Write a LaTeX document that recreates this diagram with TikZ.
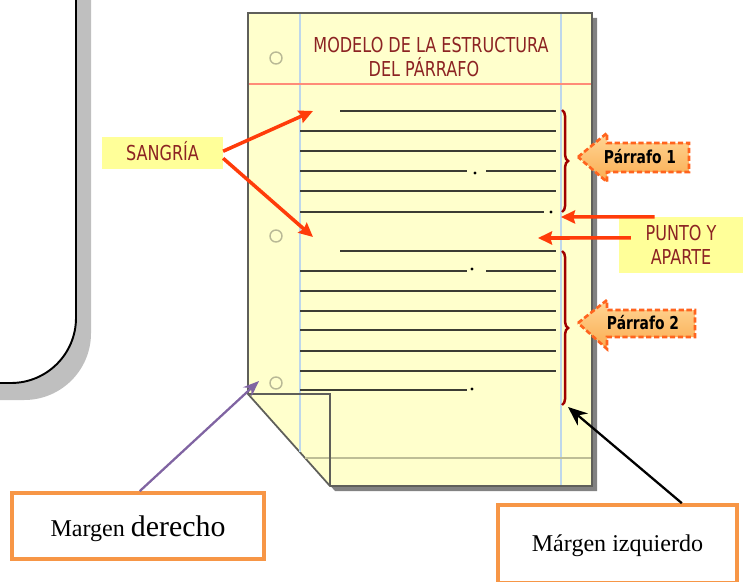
\documentclass[tikz,border=0pt]{standalone}
\usepackage{fontspec}
\setmainfont{Liberation Serif}
\newfontfamily\tahfont[FakeStretch=0.78]{DejaVu Sans}
\usetikzlibrary{arrows.meta,decorations.pathreplacing}

\definecolor{paper}{RGB}{255,255,204}
\definecolor{paperline}{RGB}{95,95,90}
\definecolor{papershadow}{RGB}{130,130,130}
\definecolor{ruleline}{RGB}{60,60,52}
\definecolor{bluerule}{RGB}{190,215,235}
\definecolor{redrule}{RGB}{255,140,120}
\definecolor{bottomrule}{RGB}{190,190,150}
\definecolor{holeline}{RGB}{185,185,150}
\definecolor{titlered}{RGB}{140,35,35}
\definecolor{bracered}{RGB}{160,0,0}
\definecolor{arrowred}{RGB}{255,60,10}
\definecolor{labelyellow}{RGB}{255,255,153}
\definecolor{calloutline}{RGB}{255,100,30}
\definecolor{boxorange}{RGB}{247,150,70}
\definecolor{purplearrow}{RGB}{128,100,162}
\definecolor{leftshadow}{RGB}{191,191,191}

\tikzset{
  rulestyle/.style={ruleline, line width=1.1pt},
  redarrow/.style={arrowred, line width=2pt, -{Stealth[length=8pt,width=7.5pt,inset=1pt]}},
  yellowbox/.style={fill=labelyellow, text=titlered, inner sep=0pt,
    font=\tahfont\fontsize{11.7}{13.9}\selectfont},
  titletext/.style={text=titlered, inner sep=0pt, text height=8.5pt, text depth=0pt,
    font=\tahfont\fontsize{11.7}{13.9}\selectfont},
  callout/.style={draw=calloutline, line width=1.5pt, dash pattern=on 3pt off 1.5pt,
    top color={rgb,255:red,255;green,214;blue,150}, bottom color={rgb,255:red,250;green,172;blue,80}},
  parrafo/.style={inner sep=0pt, text height=7.4pt, text depth=0pt,
    font=\tahfont\fontsize{10.1}{12}\selectfont\bfseries},
  pbrace/.style={bracered, line width=1.4pt, decorate, decoration={brace, amplitude=3.5pt}},
  margenbox/.style={draw=boxorange, line width=2.3pt, fill=white, inner sep=0pt,
    font=\fontsize{13.7}{16}\selectfont}
}

\begin{document}
\begin{tikzpicture}[x=0.02cm, y=-0.02cm]
  \useasboundingbox (0,0) rectangle (743,581);

  \begin{scope}
    \clip (0,0) rectangle (743,581);
    \fill[leftshadow, rounded corners=38pt] (-185,-183) rectangle (91,400);
    \draw[line width=1.1pt, fill=white, rounded corners=37pt] (-200,-200) rectangle (76,383);
  \end{scope}

  \fill[papershadow, shift={(5,5)}] (248,13) -- (592,13) -- (592,486) -- (330,486) -- (248,394) -- cycle;
  \draw[paperline, fill=paper, line width=1pt] (248,13) -- (592,13) -- (592,486) -- (330,486) -- (248,394) -- cycle;
  \draw[bluerule, line width=0.7pt] (300,14) -- (300,452);
  \draw[bluerule, line width=0.7pt] (561,14) -- (561,485);
  \draw[redrule, line width=0.8pt] (249,84) -- (591,84);
  \draw[bottomrule, line width=1pt] (305,458) -- (591,458);
  \draw[paperline, line width=0.9pt] (248,394) -- (330,394) -- (330,486);
  \foreach \y in {58,236,383}
    \draw[holeline, line width=0.8pt] (276,\y) circle[radius=6];

  \foreach \y in {131,151,191,291,311,330,351,371}
    \draw[rulestyle] (300,\y) -- (556,\y);
  \foreach \y in {111,251}
    \draw[rulestyle] (340,\y) -- (556,\y);
  \foreach \y in {171,271} {
    \draw[rulestyle] (300,\y) -- (467,\y);
    \draw[rulestyle] (486,\y) -- (556,\y);
  }
  \draw[rulestyle] (300,212) -- (544,212);
  \draw[rulestyle] (300,390) -- (467,390);
  \fill (475,173) circle[radius=1.6];
  \fill (551,212) circle[radius=1.6];
  \fill (472,269) circle[radius=1.6];
  \fill (472,389) circle[radius=1.6];

  \draw[pbrace] (562,110) -- (562,212);
  \draw[pbrace] (562,251) -- (562,405);

  \node[titletext] (t1) at (431,45.5) {MODELO DE LA ESTRUCTURA};
  \node[titletext] (t2) at (424,69)   {DEL PÁRRAFO};

  \draw[callout] (578,157) -- (607,133) -- (607,143) -- (689,143) -- (689,172) -- (607,172) -- (607,182) -- cycle;
  \draw[callout] (578,323) -- (607,300) -- (607,310) -- (695,310) -- (695,337) -- (607,337) -- (607,349) -- cycle;
  \node[parrafo] (c1) at (640,156.5) {Párrafo 1};
  \node[parrafo] (c2) at (643,323)   {Párrafo 2};

  \node[yellowbox, minimum width=68.6pt, minimum height=18.1pt, text height=8.5pt, text depth=0pt] (sang) at (162.5,153) {SANGRÍA};
  \node[yellowbox, minimum width=70.3pt, minimum height=31.7pt, align=center] (punto) at (681,245) {PUNTO Y\\APARTE};

  \coordinate (s1) at (313,111);
  \coordinate (s2) at (313,237);
  \coordinate (p1) at (561,217);
  \coordinate (p2) at (538,238);
  \coordinate (md) at (259,381);
  \coordinate (mi) at (568,407);

  \draw[redarrow] ([yshift=1pt]sang.east) -- (s1);
  \draw[redarrow] ([yshift=-3pt]sang.east) -- (s2);
  \draw[redarrow] ([xshift=20.4pt]punto.north west) -- (p1);
  \draw[redarrow] ([xshift=6.8pt,yshift=4pt]punto.west) -- (p2);

  \node[margenbox, minimum width=142.9pt, minimum height=37.4pt, text height=12pt, text depth=0pt] (mder) at (138,526)
    {Margen {\fontsize{17}{20}\selectfont derecho}};
  \node[margenbox, minimum width=135.5pt, minimum height=44.2pt, text height=8pt, text depth=0pt] (mizq) at (617.5,544)
    {Márgen izquierdo};

  \draw[purplearrow, line width=1.3pt, -{Stealth[length=9pt,width=7pt]}] ([xshift=1pt]mder.north) -- (md);
  \draw[line width=1.3pt, -{Stealth[length=11pt,width=9pt]}] ([xshift=36.6pt]mizq.north) -- (mi);
\end{tikzpicture}
\end{document}
